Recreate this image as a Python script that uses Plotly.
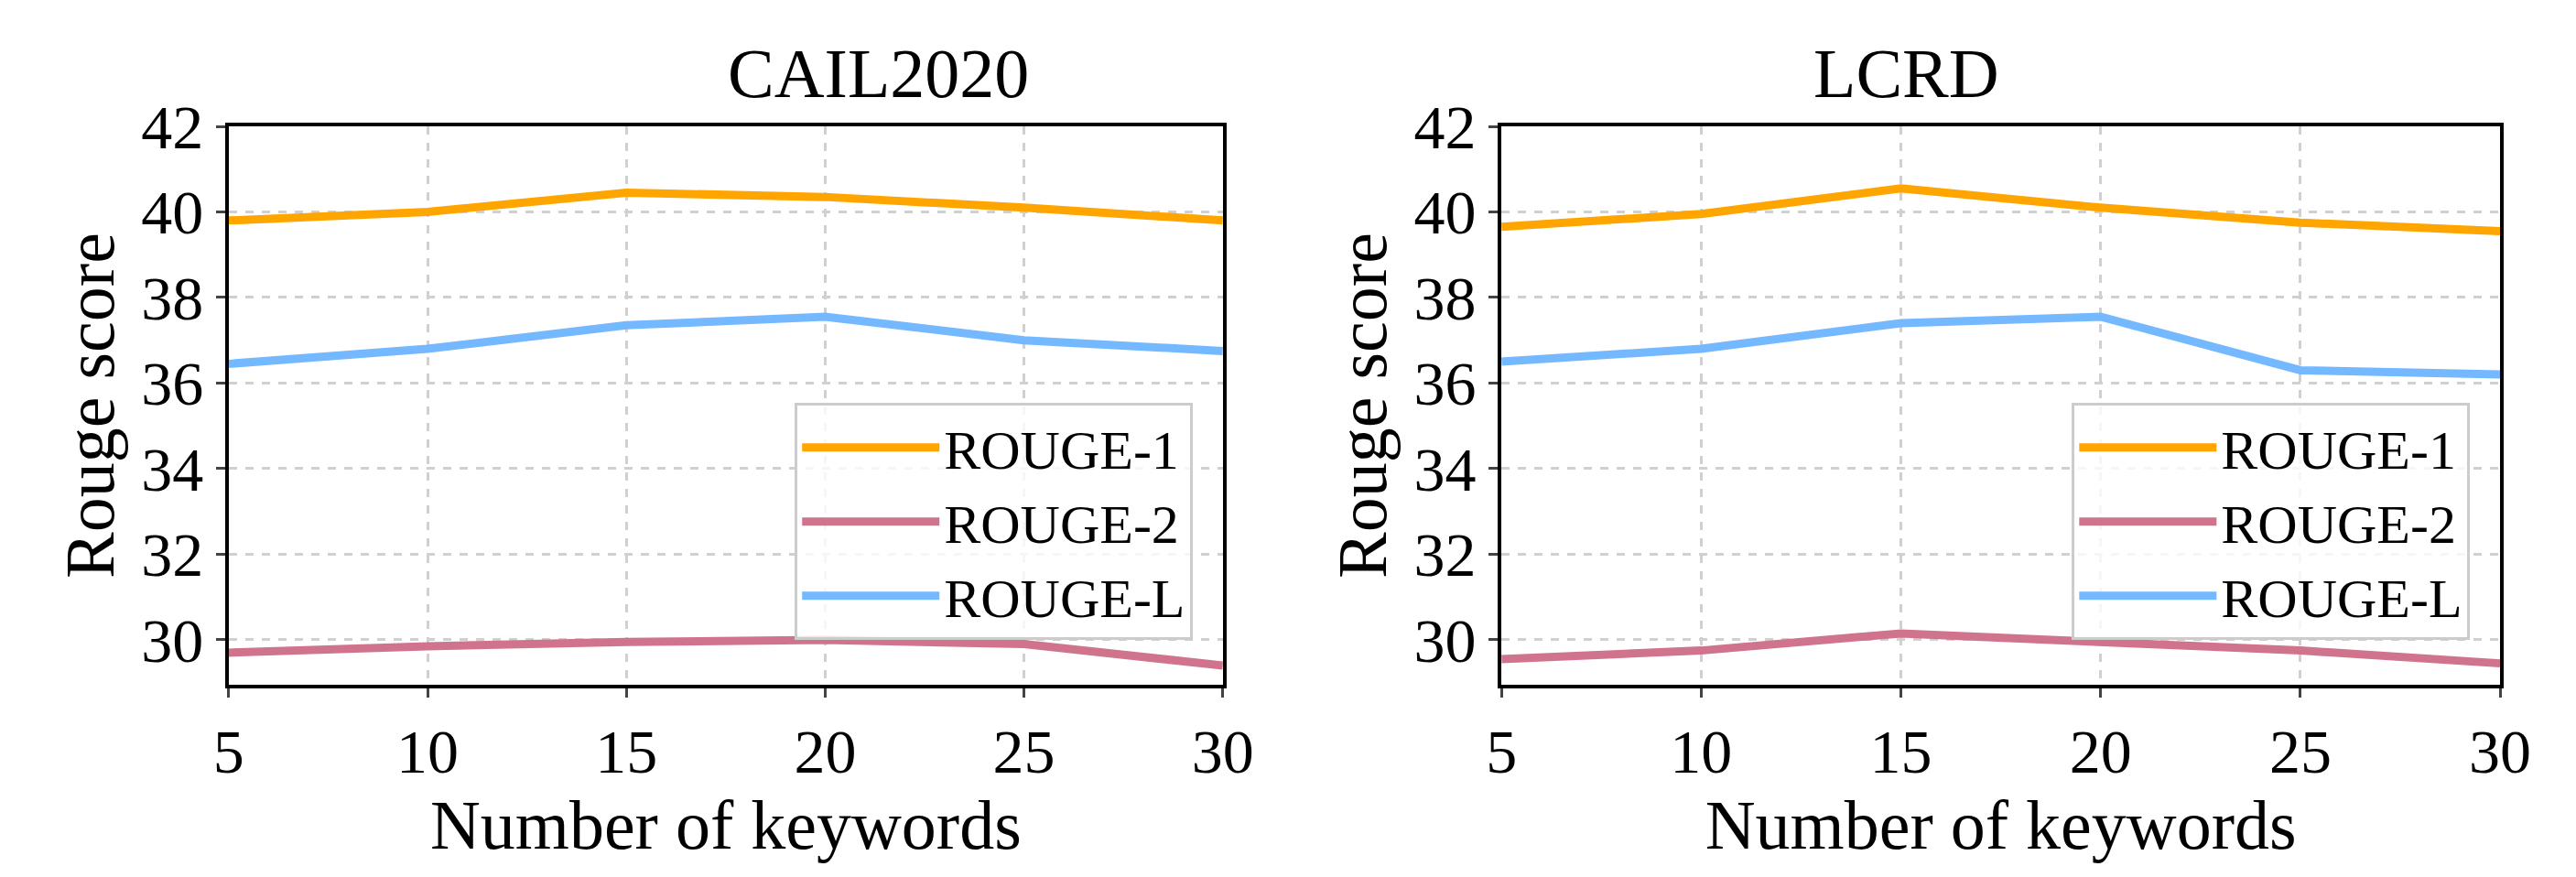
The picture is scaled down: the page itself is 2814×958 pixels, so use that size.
import plotly.graph_objects as go
from plotly.subplots import make_subplots

x = [5, 10, 15, 20, 25, 30]
cail_r1 = [39.8, 40.0, 40.45, 40.35, 40.1, 39.8]
cail_r2 = [29.7, 29.85, 29.95, 30.0, 29.9, 29.4]
cail_rl = [36.45, 36.8, 37.35, 37.55, 37.0, 36.75]
lcrd_r1 = [39.65, 39.95, 40.55, 40.1, 39.75, 39.55]
lcrd_r2 = [29.55, 29.75, 30.15, 29.95, 29.75, 29.45]
lcrd_rl = [36.5, 36.8, 37.4, 37.55, 36.3, 36.2]
titles = ["CAIL2020", "LCRD"]
names = ["ROUGE-1", "ROUGE-2", "ROUGE-L"]
colors = ["#FFA500", "#D0748E", "#74B9FF"]
yticks = [30, 32, 34, 36, 38, 40, 42]

font = "Liberation Serif"
fig = make_subplots(rows=1, cols=2)
for c, data in enumerate([[cail_r1, cail_r2, cail_rl], [lcrd_r1, lcrd_r2, lcrd_rl]], start=1):
    for n, s, col in zip(names, data, colors):
        fig.add_trace(go.Scatter(x=x, y=s, mode="lines", name=n,
                                 line=dict(color=col, width=9),
                                 legend="legend" if c == 1 else "legend2"), row=1, col=c)

ax = dict(showline=True, linecolor="black", linewidth=4, mirror=True,
          showgrid=True, gridcolor="#d0d0d0", griddash="dash", gridwidth=3,
          ticks="outside", ticklen=10, tickwidth=3, tickfont=dict(size=68, family=font, color="black"))
fig.update_xaxes(**ax, range=[5, 30], tickvals=x,
                 title=dict(text="Number of keywords", font=dict(size=76, family=font, color="black"), standoff=8))
fig.update_yaxes(**ax, range=[28.95, 42], tickvals=yticks,
                 title=dict(text="Rouge score", font=dict(size=76, family=font, color="black"), standoff=6))
fig.update_xaxes(domain=[229/2814, 1335/2814], row=1, col=1)
fig.update_xaxes(domain=[1645/2814, 2756/2814], row=1, col=2)

leg = dict(xanchor="right", yanchor="bottom", bgcolor="rgba(255,255,255,0.8)",
           bordercolor="#cccccc", borderwidth=3, font=dict(size=60, family=font, color="black"),
           itemwidth=150, y=0.08)
fig.update_layout(
    width=2814, height=958, plot_bgcolor="white", paper_bgcolor="white",
    margin=dict(l=0, r=0, t=130, b=218),
    legend=dict(**leg, x=0.97 * (1335 - 229) / 2814 + 229 / 2814),
    legend2=dict(**leg, x=0.97 * (2756 - 1645) / 2814 + 1645 / 2814),
    annotations=[dict(text=t, x=xc, y=1.0, xref="paper", yref="paper", yanchor="bottom", yshift=14,
                      showarrow=False, font=dict(size=76, family=font, color="black"))
                 for t, xc in zip(titles, [(229 + 1335) / 2 / 2814, (1645 + 2756) / 2 / 2814])],
)
fig.write_html("out.html")
